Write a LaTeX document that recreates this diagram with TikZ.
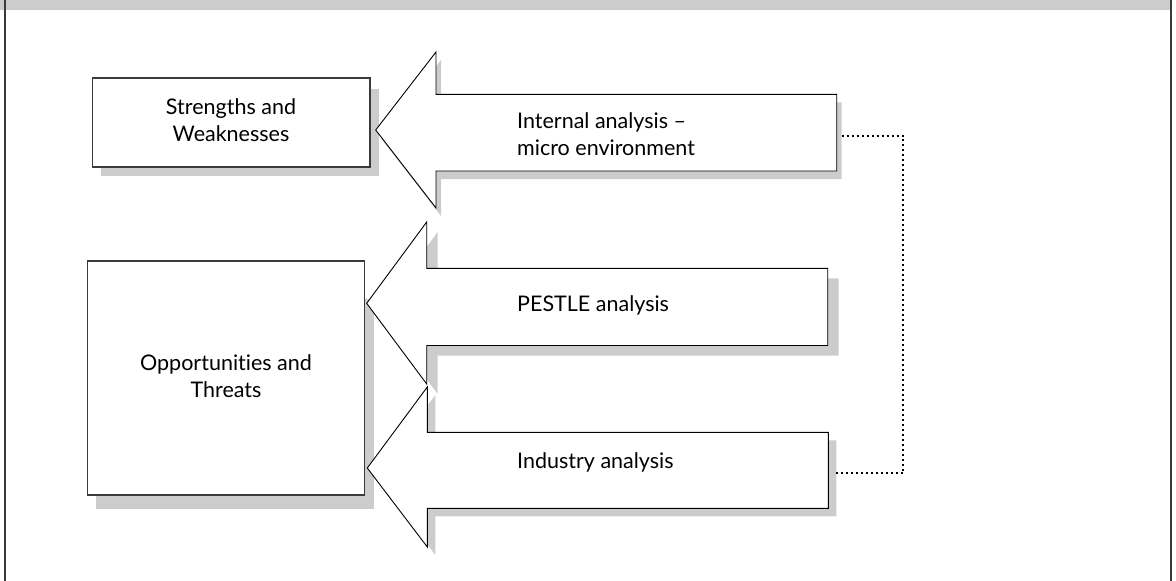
\documentclass[tikz,border=0pt]{standalone}
\usepackage{fontspec}
\setmainfont{Lato}[Ligatures=NoCommon]
\usetikzlibrary{calc}

\definecolor{shadowgray}{HTML}{CCCCCC}
\definecolor{rim}{HTML}{3A3A3A}

\tikzset{
  box/.style={draw=rim, line width=1.4pt, fill=white},
  boxshadow/.style={fill=shadowgray, draw=none},
  bigarrow/.style={draw=black, line width=0.9pt, fill=white, line join=miter},
  label/.style={font=\fontsize{21.5}{27}\selectfont, inner sep=0pt, align=center},
  arrowlabel/.style={font=\fontsize{21.5}{27}\selectfont, inner sep=0pt, align=left, anchor=west},
  dotline/.style={line width=2.2pt, dash pattern=on 2pt off 3pt, black}
}

\begin{document}
\begin{tikzpicture}[x=1pt, y=-1pt]
  \useasboundingbox (0,0) rectangle (1176,581);

  % frame: grey header strip and side rules
  \fill[shadowgray] (0,0) rectangle (1170,10);
  \draw[rim, line width=2pt] (4.7,0) -- (4.7,581);
  \draw[rim, line width=2pt] (1171,0) -- (1171,581);

  % result boxes with drop shadows
  \fill[boxshadow] (101,89) rectangle (379,176);
  \draw[box] (92.7,78) rectangle (370,167);
  \fill[boxshadow] (96,299) rectangle (374,509);
  \draw[box] (87.7,261) rectangle (364.3,495);

  % block arrow 1: internal analysis
  \fill[boxshadow, shift={(5,8)}] (375.7,130) -- (436,52) -- (436,94.3) -- (836.7,94.3)
     -- (836.7,171) -- (436,171) -- (436,208) -- cycle;
  \draw[bigarrow] (375.7,130) -- (436,52) -- (436,94.3) -- (836.7,94.3)
     -- (836.7,171) -- (436,171) -- (436,208) -- cycle;

  % block arrow 2: PESTLE
  \fill[boxshadow, shift={(11,10)}] (366.7,303.3) -- (426.7,222) -- (426.7,268.3) -- (827.7,268.3)
     -- (827.7,345.5) -- (426.7,345.5) -- (426.7,384) -- cycle;
  \draw[bigarrow] (366.7,303.3) -- (426.7,222) -- (426.7,268.3) -- (827.7,268.3)
     -- (827.7,345.5) -- (426.7,345.5) -- (426.7,384) -- cycle;

  % block arrow 3: industry
  \fill[boxshadow, shift={(8,8)}] (367.3,468) -- (427.3,387) -- (427.3,432.3) -- (828.3,432.3)
     -- (828.3,508.3) -- (427.3,508.3) -- (427.3,547) -- cycle;
  \draw[bigarrow] (367.3,468) -- (427.3,387) -- (427.3,432.3) -- (828.3,432.3)
     -- (828.3,508.3) -- (427.3,508.3) -- (427.3,547) -- cycle;

  % labels
  \node[label] (sw) at (231,120) {Strengths and\\Weaknesses};
  \node[label] (ot) at (226,376) {Opportunities and\\Threats};
  \node[arrowlabel] (internal) at (517,134) {Internal analysis --\\micro environment};
  \node[arrowlabel] (pestle) at (517,305) {PESTLE analysis};
  \node[arrowlabel] (industry) at (517,462) {Industry analysis};

  % dotted link between the internal and industry arrows
  \coordinate (intend) at (841.7,135.7);
  \coordinate (indend) at (835,473.3);
  \coordinate (bend) at (903.3,0);
  \draw[dotline] (intend) -- (intend -| bend) -- (indend -| bend) -- (indend);
\end{tikzpicture}
\end{document}
